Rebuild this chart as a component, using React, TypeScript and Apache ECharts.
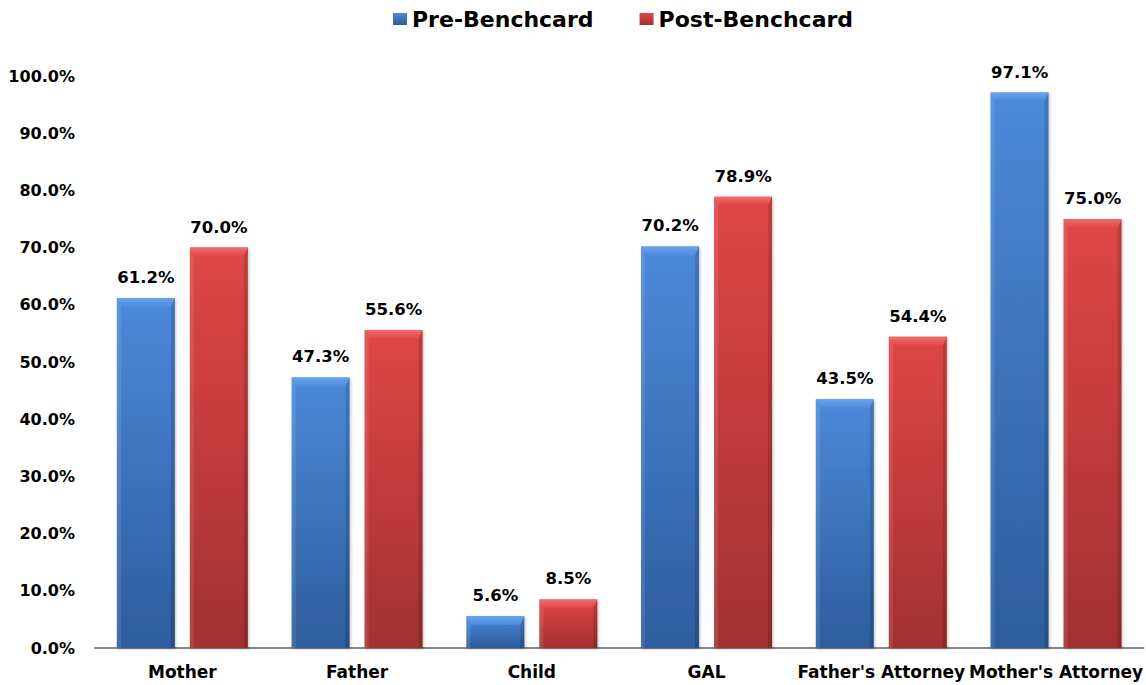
import React, { useEffect, useRef } from "react";
import * as echarts from "echarts";

const categories = ["Mother", "Father", "Child", "GAL", "Father's Attorney", "Mother's Attorney"];
const preBenchcard = [61.2, 47.3, 5.6, 70.2, 43.5, 97.1];
const postBenchcard = [70.0, 55.6, 8.5, 78.9, 54.4, 75.0];
const seriesNames = ["Pre-Benchcard", "Post-Benchcard"];

const FONT = "DejaVu Sans";
const BAR_W = 58;
const BAR_GAP = 15;

const palettes = [
  { top: "#4C8ADA", bottom: "#2D5C9C", cap: "#6BA4EC" },
  { top: "#E04646", bottom: "#A23030", cap: "#EE6F6F" },
];

// Bevelled top cap and side edges drawn over each bar
function bevelSeries(values: number[], idx: number) {
  const offset = (idx === 0 ? -1 : 1) * (BAR_GAP / 2 + BAR_W / 2);
  return {
    type: "custom",
    silent: true,
    z: 5,
    encode: { x: 0, y: 1 },
    data: values.map((v, i) => [i, v]),
    renderItem: (params: any, api: any) => {
      const cat = api.value(0);
      const v = api.value(1);
      const top = api.coord([cat, v]);
      const base = api.coord([cat, 0]);
      const cx = top[0] + offset;
      const x0 = cx - BAR_W / 2;
      const x1 = cx + BAR_W / 2;
      const yT = top[1];
      const yB = base[1];
      const b = Math.min(9, (yB - yT) / 2);
      const s = 4;
      return {
        type: "group",
        children: [
          {
            type: "polygon",
            shape: { points: [[x0, yT], [x1, yT], [x1 - s, yT + b], [x0 + s, yT + b]] },
            style: {
              fill: new echarts.graphic.LinearGradient(0, 0, 0, 1, [
                { offset: 0, color: palettes[idx].cap },
                { offset: 1, color: palettes[idx].top },
              ]),
            },
          },
          {
            type: "polygon",
            shape: { points: [[x0, yT], [x0 + s, yT + b], [x0 + s, yB], [x0, yB]] },
            style: { fill: "rgba(255,255,255,0.10)" },
          },
          {
            type: "polygon",
            shape: { points: [[x1, yT], [x1, yB], [x1 - s, yB], [x1 - s, yT + b]] },
            style: { fill: "rgba(0,0,0,0.14)" },
          },
        ],
      };
    },
  };
}

function barSeries(name: string, values: number[], idx: number) {
  const p = palettes[idx];
  return {
    name,
    type: "bar",
    data: values,
    barWidth: BAR_W,
    barGap: `${(BAR_GAP / BAR_W) * 100}%`,
    z: 2,
    itemStyle: {
      color: new echarts.graphic.LinearGradient(0, 0, 0, 1, [
        { offset: 0, color: p.top },
        { offset: 1, color: p.bottom },
      ]),
      shadowBlur: 3,
      shadowColor: "rgba(0,0,0,0.25)",
      shadowOffsetX: 1,
      shadowOffsetY: 1,
    },
    label: {
      show: true,
      position: "top",
      distance: 12,
      fontFamily: FONT,
      fontWeight: "bold",
      fontSize: 16.5,
      color: "#000",
      formatter: (pr: any) => `${Number(pr.value).toFixed(1)}%`,
    },
  };
}

export default function App() {
  const ref = useRef<HTMLDivElement>(null);

  useEffect(() => {
    if (!ref.current) return;
    const chart = echarts.init(ref.current, null, { renderer: "svg" });
    chart.setOption({
      animation: false,
      backgroundColor: "#fff",
      legend: {
        data: seriesNames,
        top: 3,
        left: 388,
        itemWidth: 14,
        itemHeight: 12,
        itemGap: 46,
        icon: "rect",
        textStyle: { fontFamily: FONT, fontWeight: "bold", fontSize: 22, color: "#000" },
      },
      grid: { left: 95, right: 1, top: 76, bottom: 37, containLabel: false },
      xAxis: {
        type: "category",
        data: categories,
        axisTick: { show: false },
        axisLine: { lineStyle: { color: "#858585", width: 2 } },
        axisLabel: {
          interval: 0,
          margin: 15,
          fontFamily: FONT,
          fontWeight: "bold",
          fontSize: 17,
          color: "#000",
        },
      },
      yAxis: {
        type: "value",
        min: 0,
        max: 100,
        interval: 10,
        splitLine: { show: false },
        axisLine: { show: false },
        axisTick: { show: false },
        axisLabel: {
          margin: 20,
          fontFamily: FONT,
          fontWeight: "bold",
          fontSize: 16,
          color: "#000",
          formatter: (v: number) => `${v.toFixed(1)}%`,
        },
      },
      series: [
        barSeries(seriesNames[0], preBenchcard, 0),
        barSeries(seriesNames[1], postBenchcard, 1),
        bevelSeries(preBenchcard, 0),
        bevelSeries(postBenchcard, 1),
      ],
    });
    return () => chart.dispose();
  }, []);

  return (
    <div
      ref={ref}
      style={{ position: "fixed", left: 0, top: 0, width: 1146, height: 685 }}
    />
  );
}
